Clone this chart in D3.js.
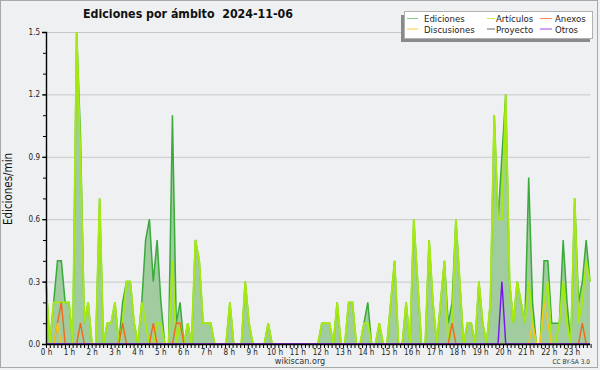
<!DOCTYPE html>
<html><head><meta charset="utf-8">
<script src="https://cdn.jsdelivr.net/npm/d3@7"></script>
<style>
html,body{margin:0;padding:0;background:#eef0f2;}
svg{display:block;font-family:"DejaVu Sans Condensed","DejaVu Sans",sans-serif;}
</style></head>
<body>
<svg id="c" width="600" height="370"></svg>
<script>
// Values per 10-minute slot (edits/min), 0:00 .. 23:40
const ediciones = [
 0.3,0,0.2,0.4,0.4,0.2,   0.2,0,1.5,1.0,0.1,0.2,   0,0,0.7,0,0.1,0.1,   0.2,0,0.2,0.3,0.3,0.1,
 0,0.2,0.5,0.6,0.3,0.5,   0.2,0,0,1.1,0.1,0.2,     0,0.1,0,0.5,0.4,0.1, 0.1,0.1,0,0,0,0,
 0.2,0,0,0,0.3,0.1,       0,0,0,0,0.1,0,           0,0,0,0,0,0,         0,0,0,0,0,0,
 0.1,0.1,0.1,0,0.2,0,     0,0.2,0.2,0,0,0.1,       0.2,0,0,0.1,0,0,     0.2,0.4,0,0,0.2,0,
 0.6,0.3,0,0,0.5,0.2,     0,0.2,0.4,0.1,0.2,0.6,   0.3,0,0.1,0.1,0,0.3, 0.1,0,0.2,1.1,0.6,0.9,
 1.2,0.3,0.1,0.3,0.2,0.1, 0.8,0.2,0,0,0.4,0.4,     0.1,0.1,0.1,0.5,0.2,0, 0.7,0.2,0.3,0.5,0.3
];
const articulos = [
 0.3,0,0.2,0.2,0.2,0.2,   0.2,0,1.5,0.9,0.1,0.2,   0,0,0.7,0,0.1,0.1,   0.2,0,0.1,0.3,0.3,0.1,
 0,0.2,0.1,0,0,0.1,       0.1,0,0,0.4,0,0.1,       0,0.1,0,0.5,0.4,0.1, 0.1,0.1,0,0,0,0,
 0.2,0,0,0,0.3,0.1,       0,0,0,0,0.1,0,           0,0,0,0,0,0,         0,0,0,0,0,0,
 0.1,0.1,0.1,0,0.2,0,     0,0.2,0.2,0,0,0.1,       0.1,0,0,0.1,0,0,     0.2,0.4,0,0,0.2,0,
 0.6,0.3,0,0,0.5,0.2,     0,0.2,0.4,0,0.1,0.6,     0.3,0,0.1,0.1,0,0.3, 0.1,0,0.2,1.1,0.6,0.6,
 1.2,0.3,0.1,0.3,0.2,0.1, 0.3,0.1,0,0,0.2,0.3,     0,0,0.1,0.3,0.1,0,   0.7,0.1,0.2,0.4,0.3
];
// sparse series: [slot index, value]
const anexosPts      = [[3,0.1],[4,0.2],[9,0.1],[20,0.1],[28,0.1],[34,0.1],[35,0.1],[106,0.1],[140,0.1]];
const discusionesPts = [[3,0.1],[127,0.1],[130,0.2],[131,0.1]];
const proyectoPts    = [];
const otrosPts       = [[119,0.3]];

const yTicks = [0,0.3,0.6,0.9,1.2,1.5];
const legendItems = [
 {name:"Ediciones", color:"#88cc88"},{name:"Artículos", color:"#ccee55"},{name:"Anexos", color:"#ff8855"},
 {name:"Discusiones", color:"#ffcc44"},{name:"Proyecto", color:"#666666"},{name:"Otros", color:"#9944ee"}
];

const n = ediciones.length;
const dense = pts => { const a = new Array(n).fill(0); pts.forEach(([i,v])=>a[i]=v); return a; };
const anexos = dense(anexosPts), discusiones = dense(discusionesPts), proyecto = dense(proyectoPts), otros = dense(otrosPts);

const svg = d3.select("#c");
const L=46, R=590, B=344;
const x = d3.scaleLinear().domain([0,n-1]).range([L,R]);
const xt = d3.scaleLinear().domain([0,1440]).range([L, L+24*22.85]);
const y = d3.scaleLinear().domain([0,1.5]).range([B,32]);

svg.append("rect").attr("x",0.5).attr("y",0.5).attr("width",597).attr("height",367)
  .attr("fill","#eef0f2").attr("stroke","#a8a8a8");

// grid
svg.append("g").selectAll("line").data(yTicks.filter(d=>d>0)).join("line")
  .attr("x1",L).attr("x2",R).attr("y1",d=>y(d)+0.5).attr("y2",d=>y(d)+0.5)
  .attr("stroke","#c8c8c8").attr("stroke-width",1);

// area
svg.append("path").datum(ediciones)
  .attr("d", d3.area().x((d,i)=>x(i)).y0(B).y1(d=>y(d)))
  .attr("fill","#a0cca0");
const line = d3.line().x((d,i)=>x(i)).y(d=>y(d));
svg.append("path").datum(ediciones).attr("d",line).attr("fill","none").attr("stroke","#3aaa3a").attr("stroke-width",1.5);
svg.append("path").datum(articulos).attr("d",line).attr("fill","none").attr("stroke","#a6ea10").attr("stroke-width",1.9);
[[anexos,"#f06a1a"],[discusiones,"#f5c518"],[proyecto,"#555555"],[otros,"#7a14f0"]].forEach(([s,c])=>{
  svg.append("path").datum(s).attr("d",line).attr("fill","none").attr("stroke",c).attr("stroke-width",1.4);
});

// y axis
const ya = svg.append("g").attr("transform",`translate(${L},0)`)
  .call(d3.axisLeft(y).tickValues(yTicks).tickFormat(d3.format(".1f")).tickSize(4).tickPadding(2));
svg.append("g").attr("transform",`translate(${L},0)`)
  .call(d3.axisLeft(y).tickValues(d3.range(0,16).map(k=>k/10)).tickFormat("").tickSize(3))
  .select(".domain").remove();
// x axis
const xa = svg.append("g").attr("transform",`translate(0,${B})`)
  .call(d3.axisBottom(xt).tickValues(d3.range(0,1440,10)).tickSize(4).tickPadding(1)
    .tickFormat(d=> d%60===0 ? (d/60)+" h" : ""));
svg.selectAll(".domain").attr("stroke","#000").attr("stroke-width",1.4);
svg.selectAll(".tick line").attr("stroke","#000");
ya.selectAll("text").attr("font-size",8).attr("font-family","DejaVu Sans Condensed").attr("fill","#222");
xa.selectAll("text").attr("font-size",8).attr("font-family","DejaVu Sans Condensed").attr("fill","#222");
xa.select(".domain").attr("d",`M${L},0.5H${R}`);

// title
svg.append("text").attr("x",188).attr("y",18).attr("text-anchor","middle")
  .attr("font-size",12.3).attr("font-weight","bold").attr("fill","#111")
  .attr("xml:space","preserve").text("Ediciones por ámbito  2024-11-06");
// y title
svg.append("text").attr("transform","translate(12,189) rotate(-90)").attr("text-anchor","middle")
  .attr("font-size",11.5).attr("fill","#111").text("Ediciones/min");
// footer
svg.append("text").attr("x",300).attr("y",364).attr("text-anchor","middle").attr("font-size",9).attr("fill","#333").text("wikiscan.org");
svg.append("text").attr("x",590).attr("y",364).attr("text-anchor","end").attr("font-size",6.5).attr("fill","#333").text("CC BY-SA 3.0");

// legend
const lg = svg.append("g");
lg.append("rect").attr("x",401).attr("y",15).attr("width",189).attr("height",27).attr("fill","#8a8a8a");
lg.append("rect").attr("x",404.5).attr("y",11.5).attr("width",188).attr("height",27).attr("fill","#fff").attr("stroke","#b0b0b0");
const colX = [[407,424],[487,496],[540,555]];
legendItems.forEach((d,k)=>{
  const c = k%3, r = Math.floor(k/3);
  const yy = 18.5 + r*10.5;
  lg.append("line").attr("x1",colX[c][0]).attr("x2",colX[c][0]+(c===0?11:c===1?8:12))
    .attr("y1",yy).attr("y2",yy).attr("stroke",d.color).attr("stroke-width",1);
  lg.append("text").attr("x",colX[c][1]).attr("y",yy+3.5).attr("font-size",9.5).attr("fill","#222").text(d.name);
});
</script>
</body></html>
